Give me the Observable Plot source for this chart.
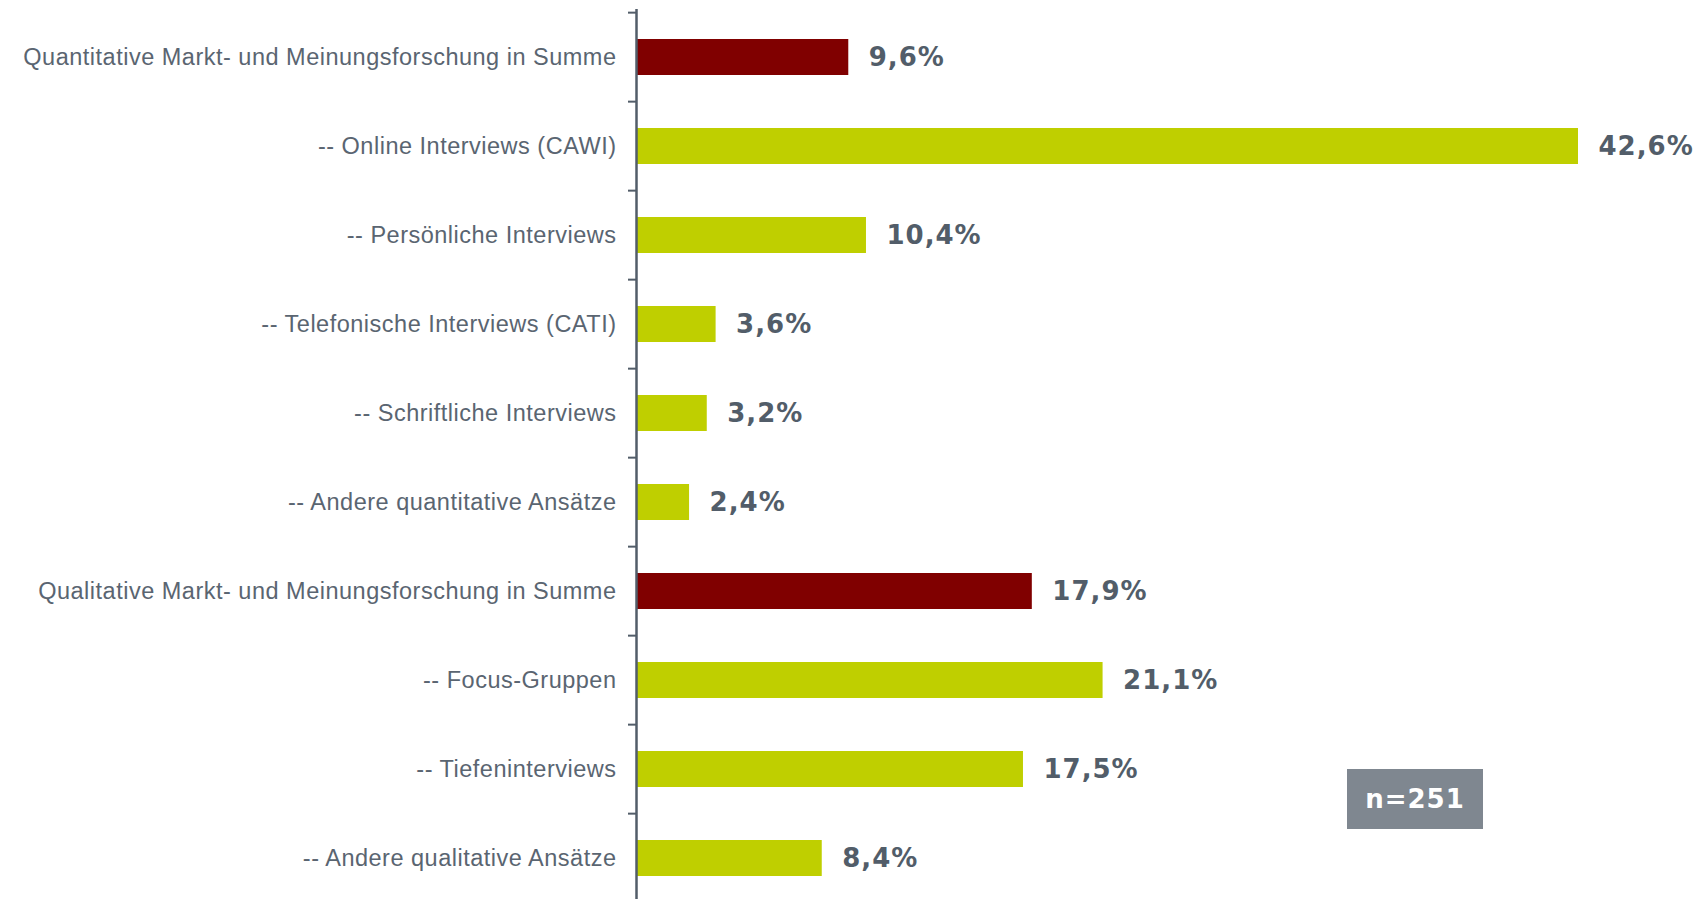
<!DOCTYPE html>
<html><head><meta charset="utf-8">
<script src="https://cdn.jsdelivr.net/npm/d3@7"></script>
<script src="https://cdn.jsdelivr.net/npm/@observablehq/plot@0.6"></script>
<style>
html,body{margin:0;padding:0;background:#fff;overflow:hidden;}
#wrap{position:relative;width:1706px;height:899px;overflow:hidden;}
#n{position:absolute;left:1347px;top:769px;width:136px;height:60px;background:#7f8790;color:#fff;font:bold 26px "DejaVu Sans";display:flex;align-items:center;justify-content:center;letter-spacing:1px;}
#wrap svg g[aria-label="y-axis tick label"] text{letter-spacing:0.5px;}
</style></head><body><div id="wrap"><div id="n"></div></div>
<script>
const categories = [
  "Quantitative Markt- und Meinungsforschung in Summe",
  "-- Online Interviews (CAWI)",
  "-- Persönliche Interviews",
  "-- Telefonische Interviews (CATI)",
  "-- Schriftliche Interviews",
  "-- Andere quantitative Ansätze",
  "Qualitative Markt- und Meinungsforschung in Summe",
  "-- Focus-Gruppen",
  "-- Tiefeninterviews",
  "-- Andere qualitative Ansätze"
];
const values = [9.6, 42.6, 10.4, 3.6, 3.2, 2.4, 17.9, 21.1, 17.5, 8.4];
const groups = ["Summe","Detail","Detail","Detail","Detail","Detail","Summe","Detail","Detail","Detail"];
const sampleLabel = "n=251";

const data = categories.map((c, i) => ({category: c, value: values[i], group: groups[i]}));
const H = 906, MT = 9;
const step = (H - MT) / categories.length;
const ink = "#525d69";
const labelInk = "#5a6571";

const chart = Plot.plot({
  width: 1706, height: H, marginTop: MT, marginBottom: 0, marginLeft: 636, marginRight: 128,
  x: {domain: [0, 42.6], axis: null},
  y: {domain: categories, paddingInner: 0.59, paddingOuter: 0.295, axis: null},
  color: {domain: ["Summe", "Detail"], range: ["#800000", "#bfcf00"]},
  style: {fontFamily: "Liberation Sans", color: ink, background: "#fff"},
  marks: [
    Plot.barX(data, {x: "value", y: "category", fill: "group"}),
    Plot.axisY({tickSize: 0, tickPadding: 20, fontSize: 23.5, fill: labelInk, label: null}),
    Plot.axisY({tickSize: 8, tickFormat: () => "", dy: -step / 2, stroke: ink, strokeWidth: 2, label: null}),
    Plot.ruleX([0], {stroke: ink, strokeWidth: 2.5}),
    Plot.text(data, {
      x: "value", y: "category",
      text: d => d.value.toFixed(1).replace(".", ",") + "%",
      dx: 20, textAnchor: "start", fontWeight: "bold", fontSize: 26,
      fontFamily: "DejaVu Sans", fill: ink
    })
  ]
});
const wrap = document.getElementById("wrap");
wrap.insertBefore(chart, wrap.firstChild);
document.getElementById("n").textContent = sampleLabel;
chart.querySelectorAll('g[aria-label="text"] text').forEach(t => t.style.letterSpacing = "1px");
</script>
</body></html>
